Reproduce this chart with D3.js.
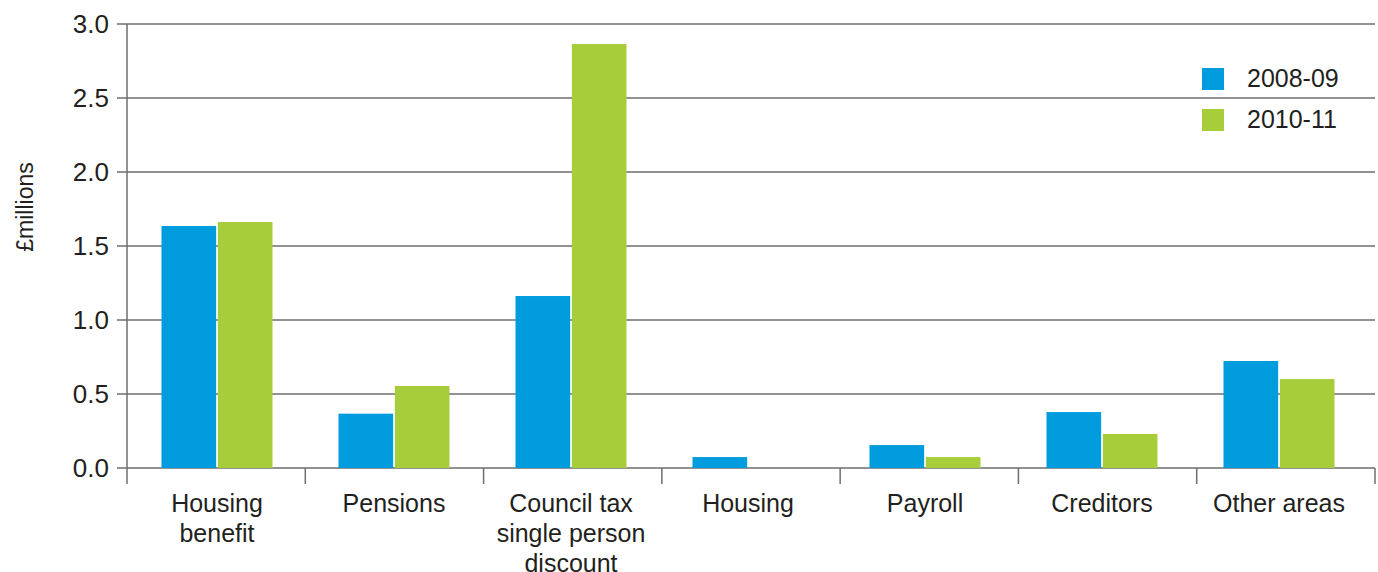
<!DOCTYPE html>
<html>
<head>
<meta charset="utf-8">
<script src="https://cdn.jsdelivr.net/npm/d3@7/dist/d3.min.js"></script>
<style>
  html, body { margin: 0; padding: 0; background: #fff; }
  text { font-family: "Liberation Sans", Arial, Helvetica, sans-serif; fill: #231f20; }
</style>
</head>
<body>
<div id="chart"></div>
<script>
// chart data
const categories = [
  ["Housing", "benefit"],
  ["Pensions"],
  ["Council tax", "single person", "discount"],
  ["Housing"],
  ["Payroll"],
  ["Creditors"],
  ["Other areas"]
]
const seriesNames = ["2008-09", "2010-11"]
const values0809 = [1.635, 0.367, 1.162, 0.074, 0.155, 0.378, 0.723]
const values1011 = [1.662, 0.554, 2.865, 0, 0.074, 0.23, 0.601]
const yTicks = [0, 0.5, 1.0, 1.5, 2.0, 2.5, 3.0]
const colors = ["#009cdd", "#a8cd3a"]

const width = 1378, height = 572
const plotLeft = 127, plotRight = 1375, plotTop = 24, plotBottom = 468

const svg = d3.select("#chart")
  .append("svg")
  .attr("width", width)
  .attr("height", height)

const y = d3.scaleLinear().domain([0, 3]).range([plotBottom, plotTop])

// tick marks use the full band, bars sit on a slightly tighter step
const keys = categories.map((d, i) => i)
const xTick = d3.scaleBand().domain(keys).range([plotLeft, plotRight])
const xBar = d3.scaleBand().domain(keys).range([plotLeft + 1.5, plotRight - 7.5])
const xInner = d3.scaleBand().domain([0, 1]).range([0, 111]).paddingInner(0.03)

// gridlines + y labels
const grid = svg.append("g")
grid.selectAll("line")
  .data(yTicks)
  .enter()
  .append("line")
  .attr("x1", plotLeft - 10)
  .attr("x2", plotRight)
  .attr("y1", d => y(d))
  .attr("y2", d => y(d))
  .attr("stroke", "#6d6e71")
  .attr("stroke-width", 1.5)

grid.selectAll("text")
  .data(yTicks)
  .enter()
  .append("text")
  .attr("x", plotLeft - 18)
  .attr("y", d => y(d))
  .attr("dy", "0.36em")
  .attr("text-anchor", "end")
  .style("font-size", "26px")
  .text(d => d3.format(".1f")(d))

// y axis line
svg.append("line")
  .attr("x1", plotLeft).attr("x2", plotLeft)
  .attr("y1", plotTop).attr("y2", plotBottom + 16)
  .attr("stroke", "#6d6e71")
  .attr("stroke-width", 1.5)

// category boundary ticks
svg.append("g")
  .selectAll("line")
  .data(keys.slice(1).concat([keys.length]))
  .enter()
  .append("line")
  .attr("x1", d => d < keys.length ? xTick(d) : plotRight)
  .attr("x2", d => d < keys.length ? xTick(d) : plotRight)
  .attr("y1", plotBottom)
  .attr("y2", plotBottom + 16)
  .attr("stroke", "#6d6e71")
  .attr("stroke-width", 1.5)

// bars
const rows = categories.map((c, i) => [values0809[i], values1011[i]])
const groups = svg.append("g")
  .selectAll("g")
  .data(rows)
  .enter()
  .append("g")
  .attr("transform", (d, i) => `translate(${xBar(i) + xBar.bandwidth() / 2 - 55.5},0)`)

groups.selectAll("rect")
  .data(d => d)
  .enter()
  .append("rect")
  .attr("x", (d, j) => xInner(j))
  .attr("width", xInner.bandwidth())
  .attr("y", d => y(d))
  .attr("height", d => plotBottom - y(d))
  .attr("fill", (d, j) => colors[j])

// category labels
const labels = svg.append("g")
  .selectAll("text")
  .data(categories)
  .enter()
  .append("text")
  .attr("text-anchor", "middle")
  .attr("transform", (d, i) => `translate(${xBar(i) + xBar.bandwidth() / 2},512)`)
  .style("font-size", "25px")

labels.selectAll("tspan")
  .data(d => d)
  .enter()
  .append("tspan")
  .attr("x", 0)
  .attr("y", (d, k) => k * 30)
  .text(d => d)

// y axis title
svg.append("text")
  .attr("transform", "translate(33,207) rotate(-90)")
  .attr("text-anchor", "middle")
  .style("font-size", "23px")
  .text("£millions")

// legend
const legend = svg.append("g")
  .attr("transform", "translate(1202,68)")
  .selectAll("g")
  .data(seriesNames)
  .enter()
  .append("g")
  .attr("transform", (d, i) => `translate(0,${i * 41})`)

legend.append("rect")
  .attr("width", 22)
  .attr("height", 22)
  .attr("fill", (d, i) => colors[i])

legend.append("text")
  .attr("x", 45)
  .attr("y", 19)
  .style("font-size", "25px")
  .text(d => d)
</script>
</body>
</html>
